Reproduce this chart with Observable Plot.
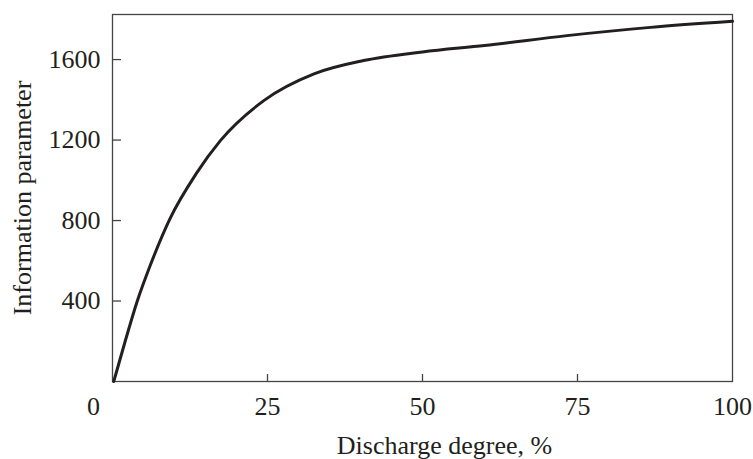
<!DOCTYPE html>
<html>
<head>
<meta charset="utf-8">
<script src="https://cdn.jsdelivr.net/npm/d3@7"></script>
<script src="https://cdn.jsdelivr.net/npm/@observablehq/plot@0.6"></script>
<style>
  html, body { margin: 0; padding: 0; background: #fff; }
</style>
</head>
<body>
<div id="chart"></div>
<script>
// Data
const dischargeDegree = [0.2, 2, 4, 6, 9.2, 13.5, 17.4, 24.4, 32.5, 40.5, 50, 60, 73.3, 86.8, 100];
const infoParameter   = [0, 195, 400, 570, 805, 1033, 1197, 1396, 1529, 1595, 1638, 1670, 1719, 1760, 1790];
const xTickValues = [25, 50, 75, 100];
const yTickValues = [400, 800, 1200, 1600];
const xLabel = "Discharge degree, %";
const yLabel = "Information parameter";

const data = dischargeDegree.map((x, i) => ({x, y: infoParameter[i]}));
const ink = "#231f20";
const frameInk = "#444";

const chart = Plot.plot({
  width: 753,
  height: 459,
  marginLeft: 112,
  marginRight: 21,
  marginTop: 14,
  marginBottom: 78,
  style: {fontFamily: "'Liberation Serif', 'Times New Roman', serif", fontSize: "26px", color: ink, background: "#fff"},
  x: {domain: [0, 100]},
  y: {domain: [0, 1824]},
  marks: [
    Plot.frame({stroke: frameInk, strokeWidth: 1.3}),
    // inward tick marks
    Plot.axisY({ticks: yTickValues, tickSize: -9, tickFormat: () => "", label: null, stroke: frameInk, strokeWidth: 1.3}),
    Plot.axisX({ticks: [25, 50, 75], tickSize: -7, tickFormat: () => "", label: null, stroke: frameInk, strokeWidth: 1.3}),
    // tick labels
    Plot.axisY({ticks: yTickValues, tickSize: 0, tickPadding: 12, tickFormat: d3.format("d"), label: null, fill: ink}),
    Plot.axisX({ticks: xTickValues, tickSize: 0, tickPadding: 15.5, tickFormat: d3.format("d"), label: null, fill: ink}),
    Plot.axisX({ticks: [0], tickSize: 0, tickPadding: 15.5, dx: -19, tickFormat: d3.format("d"), label: null, fill: ink}),
    // axis titles
    Plot.text([xLabel], {frameAnchor: "bottom", textAnchor: "middle", lineAnchor: "middle", dx: 22, dy: 64, text: d => d, fill: ink, fontSize: 26}),
    Plot.text([yLabel], {frameAnchor: "left", textAnchor: "middle", lineAnchor: "middle", rotate: -90, dx: -90, text: d => d, fill: ink, fontSize: 26}),
    // curve
    Plot.line(data, {x: "x", y: "y", curve: "monotone-x", stroke: ink, strokeWidth: 3})
  ]
});
document.getElementById("chart").appendChild(chart);
</script>
</body>
</html>
